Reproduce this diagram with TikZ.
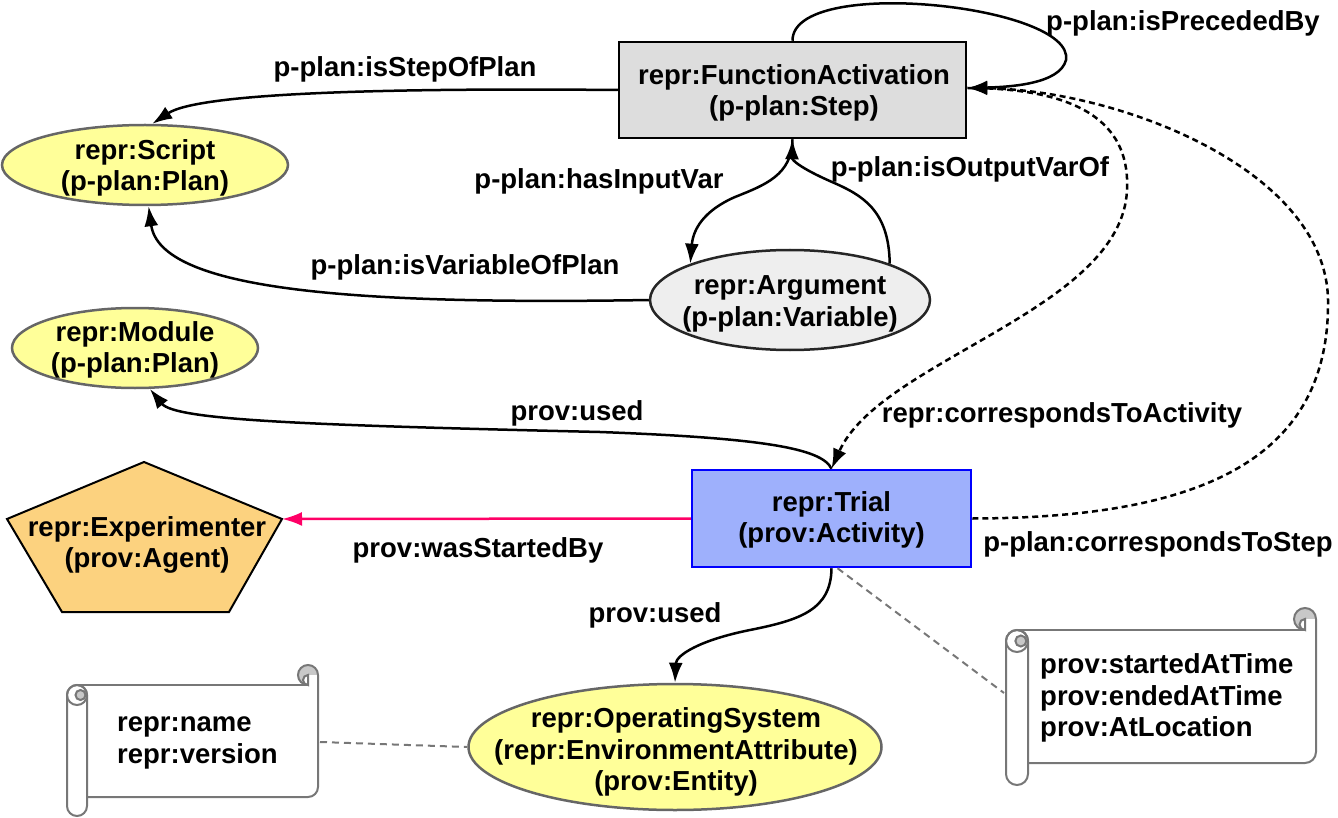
\documentclass[tikz,border=0pt]{standalone}
\usepackage{fontspec}
\setmainfont{Liberation Sans}
\usetikzlibrary{arrows.meta,shapes.geometric}

\definecolor{stepgray}{HTML}{DDDDDD}
\definecolor{planyellow}{HTML}{FFFF99}
\definecolor{vargray}{HTML}{EEEEEE}
\definecolor{trialblue}{HTML}{9EB0FC}
\definecolor{agentorange}{HTML}{FCD27F}
\definecolor{startpink}{HTML}{FF0066}
\definecolor{edgegray}{HTML}{666666}
\definecolor{notegray}{HTML}{777777}
\definecolor{curlgray}{HTML}{C8C8C8}

% Horizontal scroll note.
% #1 left x, #2 top y of the curl, #3 right x, #4 bottom y of the roll,
% #5 bottom y of the sheet, #6 roll radius  (y grows downwards)
\newcommand{\notescroll}[6]{%
  \fill[curlgray] ({#3-#6},{#2+#6}) circle[radius=#6];
  \fill[white] ({#1+#6},{#2+2*#6}) -- ({#3-#6},{#2+2*#6}) -- ({#3-#6},{#2+#6})
    -- ({#3},{#2+#6}) -- ({#3},{#5-#6}) arc[start angle=0, end angle=90, radius=#6]
    -- ({#1+#6},{#5}) -- cycle;
  \draw[scrollline] ({#1+#6},{#2+2*#6}) -- ({#3-#6},{#2+2*#6});
  \draw[scrollline] ({#3},{#2+#6}) -- ({#3},{#5-#6})
    arc[start angle=0, end angle=90, radius=#6] -- ({#1+#6},{#5});
  \draw[scrollline] ({#3-#6},{#2+2*#6}) arc[start angle=90, end angle=360, radius=#6];
  \filldraw[scrollline, fill=white] ({#3-#6},{#2+2*#6})
    arc[start angle=90, end angle=270, radius=0.5*#6] -- cycle;
  \filldraw[scrollline, fill=white] ({#1},{#2+3*#6})
    arc[start angle=180, end angle=360, radius=#6] -- ({#1+2*#6},{#4-#6})
    arc[start angle=0, end angle=180, radius=#6] -- cycle;
  \draw[scrollline] ({#1+#6},{#2+3*#6}) circle[radius=#6];
  \filldraw[scrollline, fill=curlgray] ({#1+1.35*#6},{#2+3*#6}) circle[radius=0.5*#6];
}

\begin{document}
\begin{tikzpicture}[
  x=1pt, y=-1pt,
  lbl/.style={font=\bfseries\fontsize{27.5}{31.5}\selectfont, align=center, inner sep=0pt},
  stepbox/.style={lbl, draw=black, fill=stepgray, line width=2.5pt,
    minimum width=347pt, minimum height=96pt},
  activitybox/.style={lbl, draw=blue, fill=trialblue, line width=2.5pt,
    minimum width=279pt, minimum height=97pt},
  planshape/.style={ellipse, draw=edgegray, fill=planyellow, line width=2.5pt, inner sep=0pt},
  varshape/.style={ellipse, draw=black!85, fill=vargray, line width=2.5pt, inner sep=0pt},
  rel/.style={line width=2.5pt, -{Latex[length=20pt,width=14pt]}},
  reldash/.style={rel, dash pattern=on 6pt off 4pt},
  notelink/.style={notegray, line width=2pt, dash pattern=on 7pt off 5pt},
  scrollline/.style={draw=notegray, line width=2pt},
]
\useasboundingbox (0,0) rectangle (1338,818);

% ---- plan side ----
\node[stepbox] (fa) at (792.5,90) {};
\node[lbl] (fatext) at (794,93) {repr:FunctionActivation\\(p-plan:Step)};

\node[planshape, minimum width=286pt, minimum height=80pt] (script) at (145,165) {};
\node[lbl] (scripttext) at (145,168) {repr:Script\\(p-plan:Plan)};

\node[planshape, minimum width=246pt, minimum height=80pt] (module) at (135,348) {};
\node[lbl] (moduletext) at (135,350) {repr:Module\\(p-plan:Plan)};

\node[varshape, minimum width=280pt, minimum height=100pt] (arg) at (790,300) {};
\node[lbl] (argtext) at (790,304) {repr:Argument\\(p-plan:Variable)};

% ---- provenance side ----
\node[activitybox] (trial) at (831.5,518.5) {};
\node[lbl] (trialtext) at (831.5,520) {repr:Trial\\(prov:Activity)};

\coordinate (exptop) at (144,462);
\coordinate (expright) at (282,519);
\coordinate (expbr) at (229,612);
\coordinate (expbl) at (62,612);
\coordinate (expleft) at (7,519);
\filldraw[draw=black, fill=agentorange, line width=2pt, line join=miter]
  (exptop) -- (expright) -- (expbr) -- (expbl) -- (expleft) -- cycle;
\node[lbl] (exp) at (147,545) {repr:Experimenter\\(prov:Agent)};

\node[planshape, minimum width=413pt, minimum height=126pt] (os) at (675,747) {};
\node[lbl] (ostext) at (676,752) {repr:OperatingSystem\\(repr:EnvironmentAttribute)\\(prov:Entity)};

% ---- notes ----
\notescroll{67}{665}{318}{816}{797}{10}
\node[lbl, align=left, anchor=west] (osnote) at (117,743) {repr:name\\repr:version};
\coordinate (noteLpin) at (320,742);

\notescroll{1006}{608}{1316}{785}{763}{11}
\node[lbl, align=left, anchor=west] (trialnote) at (1040,698) {prov:startedAtTime\\prov:endedAtTime\\prov:AtLocation};
\coordinate (noteRpin) at (1004,693);

% ---- relations ----
\draw[rel] (fa.west) .. controls (400,88) and (200,92) .. (script.80);
\node[lbl] (l1) at (405,69) {p-plan:isStepOfPlan};

\draw[rel] (fa.north) .. controls (792,-25) and (1075,5) .. (1066,60)
  .. controls (1060,84) and (1010,87) .. ([yshift=2pt]fa.east);
\node[lbl] (l2) at (1183,23) {p-plan:isPrecededBy};

\draw[rel] (fa.south) .. controls (792,175) and (765,185) .. (735,197)
  .. controls (703,211) and (693,230) .. (arg.160);
\node[lbl] (l3) at (599,181) {p-plan:hasInputVar};

\draw[rel] (arg.20) .. controls (889,210) and (862,195) .. (832,182)
  .. controls (800,168) and (792,160) .. (fa.south);
\node[lbl] (l4) at (970,169) {p-plan:isOutputVarOf};

\draw[rel] (arg.west) .. controls (350,305) and (160,290) .. (script.275);
\node[lbl] (l5) at (465,267) {p-plan:isVariableOfPlan};

\draw[rel] (trial.north) .. controls (822,448) and (760,438) .. (600,432)
  .. controls (300,425) and (175,420) .. (module.290);
\node[lbl] (l6) at (577,413) {prov:used};

\draw[reldash] ([yshift=2pt]fa.east) .. controls (1090,88) and (1130,130) .. (1127,190)
  .. controls (1122,310) and (880,360) .. (trial.north);
\node[lbl] (l7) at (1062,415) {repr:correspondsToActivity};

\draw[reldash] (trial.east) .. controls (1200,518) and (1330,460) .. (1328,300)
  .. controls (1326,170) and (1120,90) .. ([yshift=2pt]fa.east);
\node[lbl] (l8) at (1158,544) {p-plan:correspondsToStep};

\draw[rel, color=startpink] (trial.west) -- (expright);
\node[lbl] (l9) at (478,550) {prov:wasStartedBy};

\draw[rel] (trial.south) .. controls (831,610) and (800,620) .. (750,630)
  .. controls (700,640) and (676,655) .. (os.north);
\node[lbl] (l10) at (655,615) {prov:used};

\draw[notelink] ([xshift=6pt]trial.south) -- (noteRpin);
\draw[notelink] (noteLpin) -- (os.west);
\end{tikzpicture}
\end{document}
